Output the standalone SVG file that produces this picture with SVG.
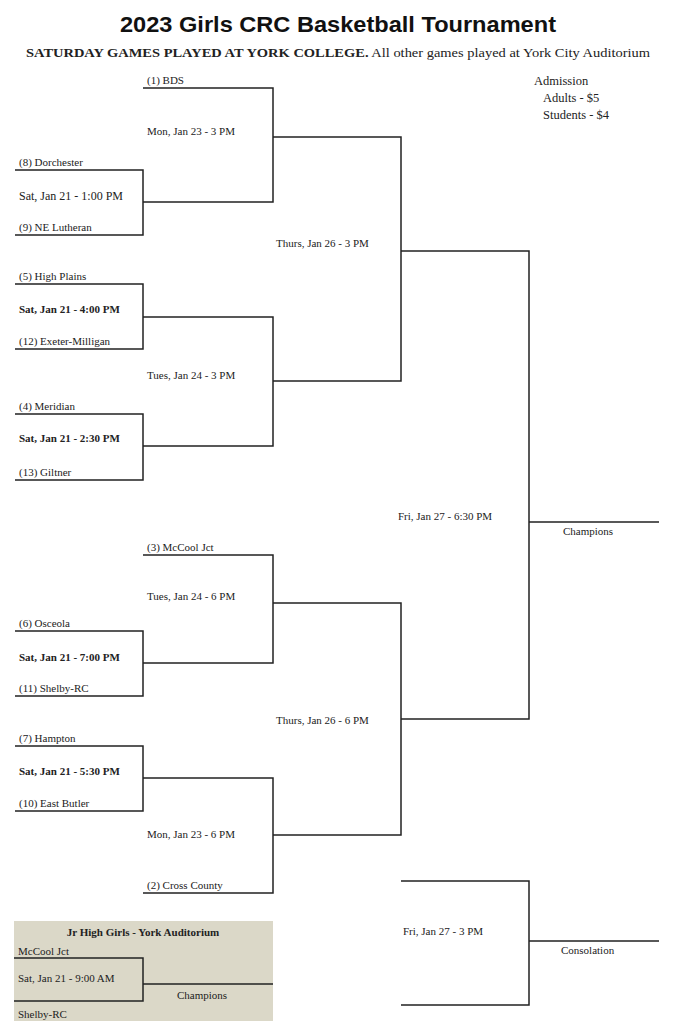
<svg xmlns="http://www.w3.org/2000/svg" width="677" height="1024" viewBox="0 0 677 1024">
<style>
text{font-family:"Liberation Serif",serif;font-size:11px;fill:#222}
.b{font-weight:bold}
.t{font-family:"Liberation Sans",sans-serif;font-weight:bold;font-size:22px;fill:#111}
.s{font-size:12.5px}
#connectors path{fill:none;stroke:#222;stroke-width:1.5}
</style>
<rect width="677" height="1024" fill="#fff"/>
<rect x="14" y="921" width="259" height="100" fill="#dbd8c8"/>
<text class="t" x="338" y="32" text-anchor="middle" textLength="436" lengthAdjust="spacingAndGlyphs">2023 Girls CRC Basketball Tournament</text>
<text class="s" x="338" y="57" text-anchor="middle" textLength="624" lengthAdjust="spacingAndGlyphs"><tspan class="b">SATURDAY GAMES PLAYED AT YORK COLLEGE.</tspan> All other games played at York City Auditorium</text>
<g id="admission"><text class="s" x="534" y="85">Admission</text><text class="s" x="543" y="102">Adults - $5</text><text class="s" x="543" y="119">Students - $4</text></g>
<g id="connectors">
<path d="M143 88H273V202H143M15 170H143V235H15M273 137H401V381H273"/>
<path d="M15 284H143V349H15M143 317H273V446H143M15 414H143V480H15"/>
<path d="M401 251H529V719H401M529 522H659"/>
<path d="M143 555H273V663H143M15 631H143V696H15M273 603H401V835H273"/>
<path d="M15 746H143V811H15M143 778H273V893H143"/>
<path d="M401 881H529V1005H401M529 941H659"/>
<path d="M14 958H143V1001H14M143 984H273"/>
</g>
<g id="teams">
<text x="147" y="84">(1) BDS</text>
<text x="19" y="166">(8) Dorchester</text>
<text x="19" y="231">(9) NE Lutheran</text>
<text x="19" y="280">(5) High Plains</text>
<text x="19" y="345">(12) Exeter-Milligan</text>
<text x="19" y="410">(4) Meridian</text>
<text x="19" y="476">(13) Giltner</text>
<text x="147" y="551">(3) McCool Jct</text>
<text x="19" y="627">(6) Osceola</text>
<text x="19" y="692">(11) Shelby-RC</text>
<text x="19" y="742">(7) Hampton</text>
<text x="19" y="807">(10) East Butler</text>
<text x="147" y="889">(2) Cross County</text>
</g>
<g id="games">
<text x="147" y="135">Mon, Jan 23 - 3 PM</text>
<text x="19" y="200" style="font-size:12px">Sat, Jan 21 - 1:00 PM</text>
<text class="b" x="19" y="313">Sat, Jan 21 - 4:00 PM</text>
<text class="b" x="19" y="442">Sat, Jan 21 - 2:30 PM</text>
<text x="147" y="379">Tues, Jan 24 - 3 PM</text>
<text x="276" y="247">Thurs, Jan 26 - 3 PM</text>
<text x="398" y="520">Fri, Jan 27 - 6:30 PM</text>
<text x="563" y="535">Champions</text>
<text x="147" y="600">Tues, Jan 24 - 6 PM</text>
<text class="b" x="19" y="661">Sat, Jan 21 - 7:00 PM</text>
<text class="b" x="19" y="775">Sat, Jan 21 - 5:30 PM</text>
<text x="276" y="724">Thurs, Jan 26 - 6 PM</text>
<text x="147" y="838">Mon, Jan 23 - 6 PM</text>
<text x="403" y="935">Fri, Jan 27 - 3 PM</text>
<text x="561" y="954">Consolation</text>
</g>
<g id="jrhigh">
<text class="b" x="143" y="936" text-anchor="middle">Jr High Girls - York Auditorium</text>
<text x="18" y="955">McCool Jct</text>
<text x="18" y="982">Sat, Jan 21 - 9:00 AM</text>
<text x="177" y="999">Champions</text>
<text x="18" y="1018">Shelby-RC</text>
</g>
</svg>
